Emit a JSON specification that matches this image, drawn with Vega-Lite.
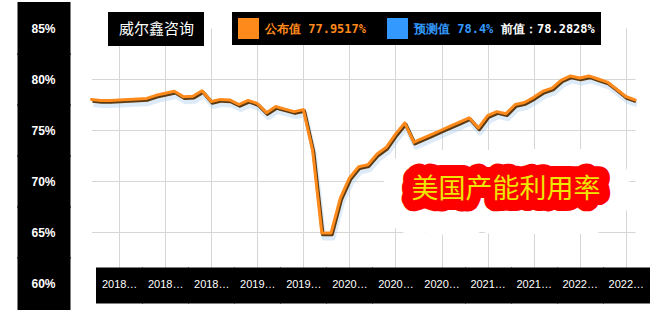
{
  "$schema": "https://vega.github.io/schema/vega-lite/v6.json",
  "autosize": {"type": "none"},
  "padding": {"left": 90, "top": 64, "right": 29, "bottom": 75},
  "width": 550,
  "height": 183,
  "background": "#ffffff",
  "config": {"view": {"stroke": null}, "font": "Liberation Sans"},
  "datasets": {
    "series": [
      {"date": "2018-03", "value": 78.0},
      {"date": "2018-04", "value": 77.9},
      {"date": "2018-05", "value": 77.9},
      {"date": "2018-06", "value": 77.95},
      {"date": "2018-07", "value": 78.0},
      {"date": "2018-08", "value": 78.05},
      {"date": "2018-09", "value": 78.1},
      {"date": "2018-10", "value": 78.4},
      {"date": "2018-11", "value": 78.6},
      {"date": "2018-12", "value": 78.8},
      {"date": "2019-01", "value": 78.25},
      {"date": "2019-02", "value": 78.3},
      {"date": "2019-03", "value": 78.85},
      {"date": "2019-04", "value": 77.8},
      {"date": "2019-05", "value": 78.0},
      {"date": "2019-06", "value": 77.95},
      {"date": "2019-07", "value": 77.5},
      {"date": "2019-08", "value": 77.9},
      {"date": "2019-09", "value": 77.6},
      {"date": "2019-10", "value": 76.7},
      {"date": "2019-11", "value": 77.3},
      {"date": "2019-12", "value": 77.05},
      {"date": "2020-01", "value": 76.8},
      {"date": "2020-02", "value": 77.0},
      {"date": "2020-03", "value": 73.0},
      {"date": "2020-04", "value": 64.9},
      {"date": "2020-05", "value": 64.9},
      {"date": "2020-06", "value": 68.3},
      {"date": "2020-07", "value": 70.3},
      {"date": "2020-08", "value": 71.4},
      {"date": "2020-09", "value": 71.6},
      {"date": "2020-10", "value": 72.65},
      {"date": "2020-11", "value": 73.3},
      {"date": "2020-12", "value": 74.6},
      {"date": "2021-01", "value": 75.7},
      {"date": "2021-02", "value": 73.8},
      {"date": "2021-03", "value": 74.2},
      {"date": "2021-04", "value": 74.6},
      {"date": "2021-05", "value": 75.0},
      {"date": "2021-06", "value": 75.4},
      {"date": "2021-07", "value": 75.8},
      {"date": "2021-08", "value": 76.2},
      {"date": "2021-09", "value": 75.2},
      {"date": "2021-10", "value": 76.4},
      {"date": "2021-11", "value": 76.8},
      {"date": "2021-12", "value": 76.6},
      {"date": "2022-01", "value": 77.5},
      {"date": "2022-02", "value": 77.7},
      {"date": "2022-03", "value": 78.2},
      {"date": "2022-04", "value": 78.8},
      {"date": "2022-05", "value": 79.1},
      {"date": "2022-06", "value": 79.9},
      {"date": "2022-07", "value": 80.3},
      {"date": "2022-08", "value": 80.1},
      {"date": "2022-09", "value": 80.3},
      {"date": "2022-10", "value": 80.0},
      {"date": "2022-11", "value": 79.7},
      {"date": "2022-12", "value": 79.0},
      {"date": "2023-01", "value": 78.2828},
      {"date": "2023-02", "value": 77.9517}
    ],
    "info": [{"source": "威尔鑫咨询", "label": "美国产能利用率"}]
  },
  "layer": [
    {
      "data": {"name": "info"},
      "mark": {"type": "text", "font": "Noto Sans CJK SC", "fontSize": 27, "fill": "#ffffff", "stroke": "#ffffff", "strokeWidth": 60, "strokeJoin": "round", "dy": 4, "align": "center", "baseline": "middle"},
      "encoding": {
        "x": {"datum": "2021-12", "type": "ordinal"},
        "y": {"datum": 69.1, "type": "quantitative"},
        "text": {"field": "label"},
        "opacity": {
          "field": "source", "type": "ordinal",
          "scale": {"range": [1, 1]},
          "legend": {
            "orient": "none", "legendX": 18, "legendY": -52, "title": null,
            "fillColor": "#000000", "padding": 9,
            "symbolSize": 0, "symbolOpacity": 0, "symbolStrokeWidth": 0,
            "labelOffset": -13, "labelColor": "#ffffff", "labelFont": "Noto Sans CJK SC", "labelFontSize": 15
          }
        }
      }
    },
    {
      "data": {"name": "info"},
      "mark": {"type": "text", "font": "Noto Sans CJK SC", "fontSize": 27, "fill": "#ff0000", "stroke": "#ff0000", "strokeWidth": 22, "strokeJoin": "round", "align": "center", "baseline": "middle"},
      "encoding": {
        "x": {"datum": "2021-12", "type": "ordinal"},
        "y": {"datum": 69.1, "type": "quantitative"},
        "text": {"field": "label"}
      }
    },
    {
      "data": {"name": "info"},
      "mark": {"type": "text", "font": "Noto Sans CJK SC", "fontSize": 27, "fill": "#eee600", "align": "center", "baseline": "middle"},
      "encoding": {
        "x": {"datum": "2021-12", "type": "ordinal"},
        "y": {"datum": 69.1, "type": "quantitative"},
        "text": {"field": "label"}
      }
    },
    {
      "data": {"name": "series"},
      "mark": {"type": "line", "stroke": "#a9cdee", "strokeWidth": 5, "opacity": 0.4, "xOffset": 2, "yOffset": 5, "strokeJoin": "round"},
      "encoding": {
        "x": {"field": "date", "type": "ordinal"},
        "y": {"field": "value", "type": "quantitative"}
      }
    },
    {
      "data": {"name": "series"},
      "mark": {"type": "line", "stroke": "#5b3a12", "strokeWidth": 3.5, "xOffset": 1, "yOffset": 1.5, "strokeJoin": "round"},
      "encoding": {
        "x": {"field": "date", "type": "ordinal"},
        "y": {"field": "value", "type": "quantitative"}
      }
    },
    {
      "data": {"name": "series"},
      "mark": {"type": "line", "strokeJoin": "round", "strokeCap": "round"},
      "encoding": {
        "strokeWidth": {"value": 3},
        "x": {
          "field": "date", "type": "ordinal",
          "scale": {"type": "point", "range": [1.5, 545], "padding": 0},
          "axis": {
            "title": null,
            "values": ["2018-06", "2018-11", "2019-04", "2019-09", "2020-02", "2020-07", "2020-12", "2021-05", "2021-10", "2022-03", "2022-08", "2023-01"],
            "labelExpr": "timeFormat(datetime(toNumber(slice(datum.value, 0, 4)), toNumber(slice(datum.value, 5, 7)) - 6, 1), '%Y') + '…'",
            "offset": 20, "domain": false, "ticks": true, "tickSize": 36, "tickWidth": 47, "tickColor": "#000000", "tickCap": "butt",
            "labelColor": "#ffffff", "labelFont": "Liberation Sans", "labelFontSize": 11, "labelAngle": 0,
            "labelAlign": "center", "labelBaseline": "middle", "labelPadding": -19, "labelOverlap": false, "labelFlush": false,
            "grid": true, "gridColor": "#d6d6d6", "gridWidth": 1
          }
        },
        "y": {
          "field": "value", "type": "quantitative",
          "scale": {"domain": [60, 85], "range": [219, -36], "nice": false, "zero": false},
          "axis": {
            "title": null,
            "values": [60, 65, 70, 75, 80, 85],
            "tickCount": 6,
            "labelExpr": "datum.value + '%'",
            "offset": 20, "domain": false, "ticks": true, "tickSize": 53, "tickWidth": 53, "tickColor": "#000000", "tickCap": "butt",
            "labelColor": "#ffffff", "labelFont": "Liberation Sans", "labelFontWeight": "bold", "labelFontSize": 12,
            "labelAlign": "center", "labelBaseline": "middle", "labelPadding": -26, "labelOverlap": false, "labelFlush": false,
            "grid": true, "gridColor": "#d6d6d6", "gridWidth": 1,
            "gridOpacity": {"condition": {"test": "datum.value == 60 || datum.value == 85", "value": 0}, "value": 1}
          }
        },
        "color": {
          "datum": "公布值", "type": "nominal",
          "scale": {"domain": ["公布值", "预测值"], "range": ["#ff8a1c", "#3399ff"]},
          "legend": {
            "orient": "none", "legendX": 142, "legendY": -52, "direction": "horizontal",
            "fillColor": "#000000", "padding": 6, "clipHeight": 21,
            "title": "前值：78.2828%", "titleOrient": "right", "titleColor": "#ffffff",
            "titleFont": "DejaVu Sans Mono", "titleFontSize": 12, "titleFontWeight": "bold", "titlePadding": 8,
            "titleAnchor": "middle", "titleBaseline": "middle",
            "symbolType": "square", "symbolSize": 100, "symbolStrokeWidth": 11, "symbolOpacity": 1,
            "labelExpr": "datum.label == '公布值' ? '公布值 77.9517%' : '预测值 78.4%'",
            "labelFont": "DejaVu Sans Mono", "labelFontSize": 12, "labelFontWeight": "bold",
            "labelColor": {"expr": "datum.index == 0 ? '#ff8a1c' : '#3399ff'"},
            "labelOffset": 6, "columnPadding": 20
          }
        }
      }
    }
  ]
}
